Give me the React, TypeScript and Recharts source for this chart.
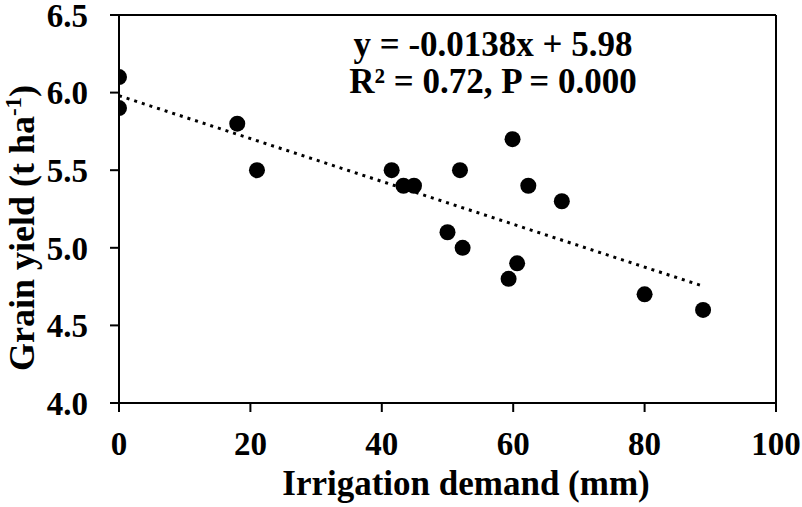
import { ComposedChart, Scatter, Line, XAxis, YAxis, ReferenceLine, Label } from 'recharts'

// irrigation demand (mm) vs grain yield (t/ha)
const demand = [0, 0, 18, 21, 41.5, 43.3, 44.9, 51.9, 50.0, 52.3, 59.9, 62.3, 67.4, 60.6, 59.3, 80.0, 88.9]
const yieldT = [6.1, 5.9, 5.8, 5.5, 5.5, 5.4, 5.4, 5.5, 5.1, 5.0, 5.7, 5.4, 5.3, 4.9, 4.8, 4.7, 4.6]

// fitted line end points (y = -0.0138x + 5.98)
const trendX = [0, 88.6]
const trendY = [5.98, 4.757]

const xTicks = [0, 20, 40, 60, 80, 100]
const yTicks = [4.0, 4.5, 5.0, 5.5, 6.0, 6.5]

const points = demand.map((x, i) => ({ x, y: yieldT[i] }))
const trend = trendX.map((x, i) => ({ x, y: trendY[i] }))

const font = '"Liberation Serif", "Times New Roman", serif'
const tickStyle = { fontFamily: font, fontWeight: 700, fontSize: 33, fill: '#000' }
const labelStyle = { fontFamily: font, fontWeight: 700, fontSize: 36, fill: '#000' }

function YLabel(props: any) {
    const vb = props.viewBox
    const cx = 34
    const cy = vb.y + vb.height / 2 + 19
    return (
        <text x={cx} y={cy} transform={`rotate(-90 ${cx} ${cy})`} textAnchor="middle" style={labelStyle}>
            Grain yield (t ha
            <tspan dy={-13} fontSize={23}>-1</tspan>
            <tspan dy={13}>)</tspan>
        </text>
    )
}

function XLabel() {
    return (
        <text x={466} y={495} textAnchor="middle" style={{ ...labelStyle, fontSize: 35 }}>
            Irrigation demand (mm)
        </text>
    )
}

export default function App() {
    return (
        <div style={{ position: 'absolute', left: 0, top: 0, width: 802, height: 507, background: '#fff' }}>
            <ComposedChart width={802} height={507} margin={{ top: 15, right: 26, left: 0, bottom: 0 }}>
                <XAxis
                    type="number"
                    dataKey="x"
                    domain={[0, 100]}
                    ticks={xTicks}
                    interval={0}
                    height={104}
                    tickSize={9}
                    tickMargin={20}
                    stroke="#000"
                    strokeWidth={2}
                    tick={tickStyle}
                    allowDataOverflow
                >
                    <Label content={<XLabel />} />
                </XAxis>
                <YAxis
                    type="number"
                    dataKey="y"
                    domain={[4, 6.5]}
                    ticks={yTicks}
                    interval={0}
                    width={119}
                    tickSize={9}
                    tickMargin={22}
                    stroke="#000"
                    strokeWidth={2}
                    tick={tickStyle}
                    tickFormatter={(v: number) => v.toFixed(1)}
                    allowDataOverflow
                >
                    <Label content={<YLabel />} />
                </YAxis>
                <ReferenceLine y={6.5} stroke="#000" strokeWidth={2} />
                <ReferenceLine x={100} stroke="#000" strokeWidth={2} />
                <Line
                    data={trend}
                    dataKey="y"
                    type="linear"
                    stroke="#000"
                    strokeWidth={3}
                    strokeDasharray="3 5"
                    dot={false}
                    activeDot={false}
                    isAnimationActive={false}
                />
                <Scatter
                    data={points}
                    fill="#000"
                    shape={(p: any) => <circle cx={p.cx} cy={p.cy} r={8} fill="#000" />}
                    isAnimationActive={false}
                />
            </ComposedChart>
            <div
                style={{
                    position: 'absolute',
                    left: 293,
                    width: 400,
                    top: 26,
                    textAlign: 'center',
                    fontFamily: font,
                    fontWeight: 700,
                    fontSize: 35,
                    lineHeight: '37px',
                    color: '#000',
                }}
            >
                <div>y = -0.0138x + 5.98</div>
                <div>R² = 0.72, P = 0.000</div>
            </div>
        </div>
    )
}
